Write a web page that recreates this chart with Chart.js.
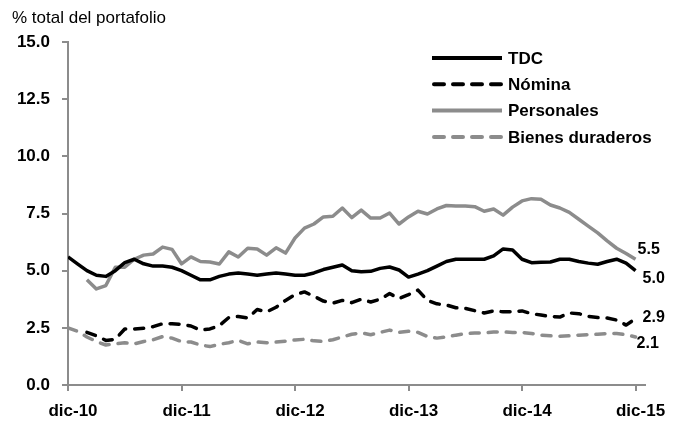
<!DOCTYPE html>
<html>
<head>
<meta charset="utf-8">
<script src="https://cdn.jsdelivr.net/npm/chart.js@4/dist/chart.umd.min.js"></script>
<style>
  html, body { margin: 0; padding: 0; background: #ffffff; }
  #wrap { width: 678px; height: 421px; position: relative; }
</style>
</head>
<body>
<div id="wrap"><canvas id="c" width="678" height="421"></canvas></div>
<script>
// ---- Data (monthly, dic-10 .. dic-15; index 0 = dic-10) ----
const tickLabels = ['dic-10', 'dic-11', 'dic-12', 'dic-13', 'dic-14', 'dic-15'];
const tickMonths = [0, 12, 24, 36, 48, 60];
const yTicks = [0, 2.5, 5, 7.5, 10, 12.5, 15];
const seriesNames = ['TDC', 'Nómina', 'Personales', 'Bienes duraderos'];
const axisTitle = '% total del portafolio';

const tdc = [5.6, 5.3, 5.0, 4.8, 4.75, 5.0, 5.35, 5.5, 5.3, 5.2,
             5.2, 5.15, 5.0, 4.8, 4.6, 4.6, 4.75, 4.85, 4.9, 4.85,
             4.8, 4.85, 4.9, 4.85, 4.8, 4.8, 4.9, 5.05, 5.15, 5.25,
             5.0, 4.95, 4.97, 5.1, 5.16, 5.03, 4.72, 4.85, 5.0, 5.2,
             5.4, 5.5, 5.5, 5.5, 5.5, 5.65, 5.95, 5.9, 5.5, 5.35,
             5.37, 5.38, 5.5, 5.5, 5.4, 5.33, 5.28, 5.4, 5.5, 5.33,
             5.0];
const nomina = [null, null, 2.3, 2.15, 1.95, 2.0, 2.45, 2.45, 2.48, 2.55,
                2.68, 2.68, 2.65, 2.58, 2.4, 2.45, 2.6, 2.95, 3.0, 2.93,
                3.3, 3.2, 3.4, 3.7, 3.95, 4.07, 3.88, 3.67, 3.58, 3.7,
                3.6, 3.75, 3.63, 3.75, 4.0, 3.78, 3.95, 4.15, 3.7, 3.55,
                3.5, 3.38, 3.35, 3.25, 3.15, 3.24, 3.2, 3.2, 3.24, 3.12,
                3.06, 3.0, 2.97, 3.15, 3.12, 3.0, 2.95, 2.93, 2.84, 2.62,
                2.9];
const personales = [null, null, 4.6, 4.2, 4.35, 5.15, 5.15, 5.5, 5.68, 5.73,
                    6.03, 5.93, 5.3, 5.6, 5.4, 5.38, 5.29, 5.82, 5.6, 5.98,
                    5.95, 5.68, 6.0, 5.77, 6.43, 6.86, 7.04, 7.35, 7.38, 7.74,
                    7.32, 7.65, 7.3, 7.3, 7.52, 7.04, 7.35, 7.6, 7.48, 7.7,
                    7.85, 7.83, 7.83, 7.8, 7.6, 7.7, 7.43, 7.78, 8.05, 8.15,
                    8.12, 7.87, 7.74, 7.55, 7.25, 6.95, 6.65, 6.3, 5.98, 5.75,
                    5.5];
const bienes = [2.5, 2.35, 2.1, 1.9, 1.75, 1.8, 1.85, 1.8, 1.9, 1.98,
                2.12, 2.05, 1.9, 1.88, 1.75, 1.68, 1.78, 1.85, 1.95, 1.8,
                1.88, 1.85, 1.88, 1.92, 1.97, 2.0, 1.93, 1.9, 1.98, 2.1,
                2.22, 2.28, 2.2, 2.3, 2.4, 2.3, 2.35, 2.3, 2.12, 2.05,
                2.1, 2.18, 2.25, 2.27, 2.28, 2.32, 2.32, 2.3, 2.3, 2.25,
                2.18, 2.15, 2.13, 2.15, 2.18, 2.2, 2.22, 2.25, 2.25, 2.2,
                2.1];

// ---- Styling ----
const BLACK = '#000000';
const GREY = '#8c8c8c';
const AXIS = '#8c8c8c';
const FONT = '"Liberation Sans", Arial, sans-serif';
const DASH = [9, 9];

function toXY(arr) {
  const out = [];
  arr.forEach((v, i) => { if (v !== null) out.push({ x: i, y: v }); });
  return out;
}

const seriesValues = [tdc, nomina, personales, bienes];
const seriesColors = [BLACK, BLACK, GREY, GREY];
const seriesDash = [[], DASH, [], DASH];
const labelOffsets = [{dx: 7, dy: 8}, {dx: 7, dy: -1}, {dx: 2, dy: -10}, {dx: 1, dy: 6.5}];

const datasets = seriesNames.map((name, k) => ({
  label: name,
  data: toXY(seriesValues[k]),
  borderColor: seriesColors[k],
  backgroundColor: seriesColors[k],
  borderWidth: 3.5,
  borderDash: seriesDash[k],
  borderCapStyle: seriesDash[k].length ? 'round' : 'butt',
  borderJoinStyle: 'round',
  pointRadius: 0,
  tension: 0,
  fill: false
}));

const overlay = {
  id: 'overlay',
  afterDraw(chart) {
    const ctx = chart.ctx;
    ctx.save();
    // axis title
    ctx.fillStyle = '#000';
    ctx.font = '17px ' + FONT;
    ctx.textAlign = 'left';
    ctx.textBaseline = 'middle';
    ctx.fillText(axisTitle, 12, 18);

    // legend
    const lx0 = 432, lx1 = 502, ly0 = 58, step = 26.3;
    chart.data.datasets.forEach((ds, k) => {
      const y = ly0 + k * step;
      ctx.beginPath();
      ctx.strokeStyle = ds.borderColor;
      ctx.lineWidth = 4;
      ctx.lineCap = ds.borderDash.length ? 'round' : 'butt';
      ctx.setLineDash(ds.borderDash.length ? [10, 9] : []);
      ctx.moveTo(lx0 + (ds.borderDash.length ? 2 : 0), y);
      ctx.lineTo(lx1, y);
      ctx.stroke();
      ctx.setLineDash([]);
      ctx.fillStyle = '#000';
      ctx.font = 'bold 17px ' + FONT;
      ctx.textAlign = 'left';
      ctx.textBaseline = 'middle';
      ctx.fillText(ds.label, 508, y + 1);
    });

    // end-value labels
    ctx.font = 'bold 16px ' + FONT;
    ctx.fillStyle = '#000';
    chart.data.datasets.forEach((ds, k) => {
      const meta = chart.getDatasetMeta(k);
      const last = meta.data[meta.data.length - 1];
      const v = ds.data[ds.data.length - 1].y;
      const off = labelOffsets[k];
      ctx.textAlign = 'left';
      ctx.textBaseline = 'middle';
      ctx.fillText(v.toFixed(1), last.x + off.dx, last.y + off.dy);
    });
    ctx.restore();
  }
};

new Chart(document.getElementById('c'), {
  type: 'line',
  data: { datasets },
  plugins: [overlay],
  options: {
    responsive: false,
    animation: false,
    events: [],
    layout: { padding: { top: 42, right: 33, left: 0, bottom: 0 } },
    plugins: { legend: { display: false }, tooltip: { enabled: false }, title: { display: false } },
    scales: {
      x: {
        type: 'linear',
        min: 0,
        max: 61,
        afterBuildTicks(scale) { scale.ticks = tickMonths.map(v => ({ value: v })); },
        afterFit(scale) { scale.height = 36; },
        grid: { drawOnChartArea: false, drawTicks: true, tickLength: 6, color: AXIS, lineWidth: 2 },
        border: { display: true, color: AXIS, width: 2 },
        ticks: {
          autoSkip: false,
          maxRotation: 0,
          padding: 10,
          labelOffset: 5,
          color: '#000',
          font: { family: FONT, size: 17, weight: 'bold' },
          callback(v) { const i = tickMonths.indexOf(v); return i >= 0 ? tickLabels[i] : ''; }
        }
      },
      y: {
        min: 0,
        max: 15,
        afterBuildTicks(scale) { scale.ticks = yTicks.map(v => ({ value: v })); },
        afterFit(scale) { scale.width = 68; },
        grid: { drawOnChartArea: false, drawTicks: true, tickLength: 6, color: AXIS, lineWidth: 2 },
        border: { display: true, color: AXIS, width: 2 },
        ticks: {
          padding: 12,
          color: '#000',
          font: { family: FONT, size: 17, weight: 'bold' },
          callback(v) { return Number(v).toFixed(1); }
        }
      }
    }
  }
});
</script>
</body>
</html>
